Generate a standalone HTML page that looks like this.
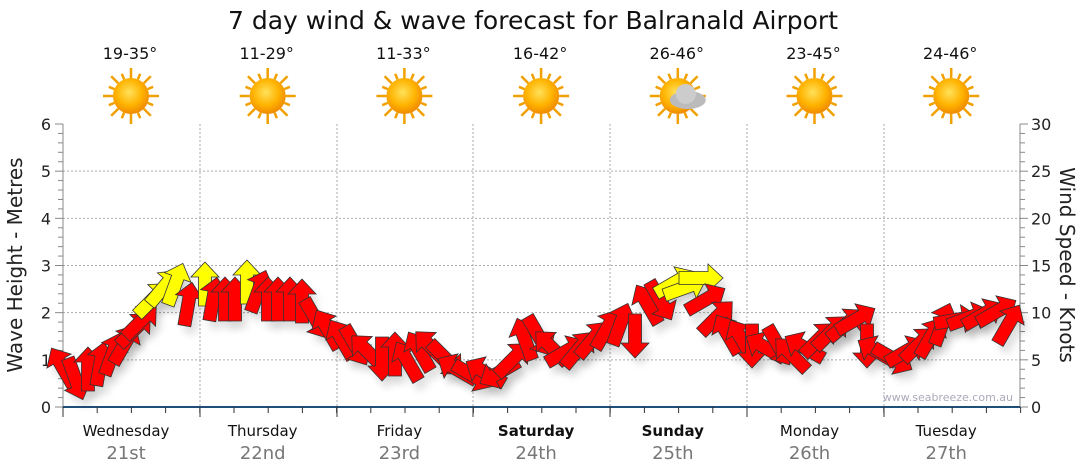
<!DOCTYPE html>
<html><head><meta charset="utf-8"><style>
body{margin:0;background:#fff;}
svg{font-family:"DejaVu Sans","Liberation Sans",sans-serif;display:block}
</style></head><body>
<svg id="s" width="1080" height="475" xmlns="http://www.w3.org/2000/svg">
<defs>
<radialGradient id="sun" cx="45%" cy="40%" r="60%"><stop offset="0" stop-color="#ffe15a"/><stop offset="0.6" stop-color="#ffb300"/><stop offset="1" stop-color="#f08a00"/></radialGradient>
<filter id="sh" x="-50%" y="-50%" width="200%" height="200%"><feGaussianBlur stdDeviation="4"/></filter>
</defs>
<text x="533" y="29" font-size="25" text-anchor="middle" fill="#111">7 day wind &amp; wave forecast for Balranald Airport</text>
<g id="g"></g>
</svg>
<script>
const g=document.getElementById('g');let h='';
const L=63,R=1020,T=124,B=407;
for(let i=1;i<6;i++){const y=B-i*47.17;h+=`<line x1="${L}" y1="${y}" x2="${R}" y2="${y}" stroke="#aaa" stroke-dasharray="2,2"/>`;}
const days=[200,337,473,610,747,884];
days.forEach(x=>h+=`<line x1="${x}" y1="${T}" x2="${x}" y2="${B}" stroke="#aaa" stroke-dasharray="2,2"/>`);
h+=`<line x1="${L}" y1="${T}" x2="${L}" y2="${B}" stroke="#888"/><line x1="${R}" y1="${T}" x2="${R}" y2="${B}" stroke="#888"/>`;
for(let i=0;i<=30;i++){const y=B-i*(283/30);const big=i%5==0;h+=`<line x1="${L-(big?8:5)}" y1="${y}" x2="${L}" y2="${y}" stroke="#888"/><line x1="${R}" y1="${y}" x2="${R+(big?8:5)}" y2="${y}" stroke="#888"/>`;}
for(let i=0;i<=6;i++)h+=`<text x="46" y="${B-i*47.17+6}" font-size="16" text-anchor="middle" fill="#222">${i}</text>`;
for(let i=0;i<=30;i+=5)h+=`<text x="1031" y="${B-i*9.433+6}" font-size="16" fill="#222">${i}</text>`;
h+=`<text transform="translate(22,265) rotate(-90)" font-size="20" text-anchor="middle" fill="#222">Wave Height - Metres</text>`;
h+=`<text transform="translate(1060,265) rotate(90)" font-size="20" text-anchor="middle" fill="#222">Wind Speed - Knots</text>`;
h+=`<line x1="${L}" y1="${B}" x2="${R}" y2="${B}" stroke="#1f4e79" stroke-width="2"/>`;
for(let x=L;x<=R+1;x+=34.2){h+=`<line x1="${x}" y1="${B}" x2="${x}" y2="${B+6}" stroke="#333"/>`;}
days.concat([L]).forEach(x=>h+=`<line x1="${x}" y1="${B}" x2="${x}" y2="${B+10}" stroke="#333"/>`);
const dn=["Wednesday","Thursday","Friday","Saturday","Sunday","Monday","Tuesday"],dd=["21st","22nd","23rd","24th","25th","26th","27th"],tp=["19-35°","11-29°","11-33°","16-42°","26-46°","23-45°","24-46°"];
for(let i=0;i<7;i++){const cx=131+i*136.7;const b=(i==3||i==4)?'font-weight="bold"':'';
h+=`<text x="${cx-5}" y="436" font-size="15" text-anchor="middle" fill="#111" ${b}>${dn[i]}</text>`;
h+=`<text x="${cx-5}" y="459" font-size="18" text-anchor="middle" fill="#777">${dd[i]}</text>`;
h+=`<text x="${cx-1}" y="59" font-size="16" text-anchor="middle" fill="#111">${tp[i]}</text>`;
const sy=96;let r='';for(let k=0;k<16;k++){const a=k*Math.PI/8;r+=`<line x1="${cx+Math.cos(a)*18}" y1="${sy+Math.sin(a)*18}" x2="${cx+Math.cos(a)*(k%2?24:28)}" y2="${sy+Math.sin(a)*(k%2?24:28)}" stroke="#f0a000" stroke-width="2.5"/>`;}
h+=r+`<circle cx="${cx}" cy="${sy}" r="18" fill="url(#sun)"/>`;
if(i==4)h+=`<ellipse cx="${cx+10}" cy="${sy+4}" rx="18" ry="9" fill="#bbb"/><circle cx="${cx+8}" cy="${sy-2}" r="10" fill="#ccc"/>`;}
h+=`<text x="1013" y="401" font-size="11" text-anchor="end" fill="#aab">www.seabreeze.com.au</text>`;
const A=[[63,368,-30,0],[75,378,160,0],[88,370,0,0],[100,365,10,0],[112,355,20,0],[124,345,30,0],[134,330,45,0],[140,322,45,0],
[152,300,45,1],[163,288,40,1],[175,285,20,1],[188,305,10,0],[205,285,0,1],[213,300,10,0],[225,300,0,0],[235,300,0,0],[247,283,0,1],[258,292,20,0],
[268,300,0,0],[278,300,0,0],[290,300,0,0],[302,302,0,0],[315,318,150,0],[328,330,-30,0],[342,340,-30,0],[355,345,150,0],[368,352,-45,0],
[382,358,180,0],[395,355,0,0],[408,362,-30,0],[420,352,-30,0],[432,348,-45,0],[445,358,135,0],[458,370,-60,0],[472,375,120,0],[486,373,-60,0],
[500,372,-120,0],[512,360,45,0],[525,340,-20,0],[538,335,150,0],[552,348,-45,0],[565,352,60,0],[578,350,40,0],[592,340,40,0],[606,330,30,0],
[620,325,20,0],[635,335,180,0],[648,305,-30,0],[660,300,150,0],[674,283,60,1],[684,288,70,1],[700,278,90,1],[705,300,60,0],[716,318,45,0],
[728,335,-30,0],[742,340,-30,0],[752,345,180,0],[766,348,-60,0],[778,345,150,0],[792,355,-45,0],[805,348,-60,0],[818,340,45,0],[830,333,45,0],
[845,325,50,0],[855,320,60,0],[867,345,180,0],[878,352,-60,0],[892,358,120,0],[905,352,60,0],[918,345,45,0],[930,338,30,0],[942,325,20,0],
[955,320,80,0],[968,318,70,0],[982,315,60,0],[996,312,60,0],[1008,325,30,0]];
let sh='',ar='';
const p="M0,-23 L14,-8 L6.5,-8 L6.5,21 L-6.5,21 L-6.5,-8 L-14,-8 Z";
A.forEach(([x,y,a,c])=>{
sh+=`<path d="${p}" transform="translate(${x+5},${y+8}) rotate(${a})" fill="#000" opacity="0.12" filter="url(#sh)"/>`;
ar+=`<path d="${p}" transform="translate(${x},${y}) rotate(${a})" fill="${c?'#ffff00':'#ff0000'}" stroke="#333" stroke-width="0.8"/>`;});
h+=sh+ar;
g.innerHTML=h;
</script>
</body></html>
